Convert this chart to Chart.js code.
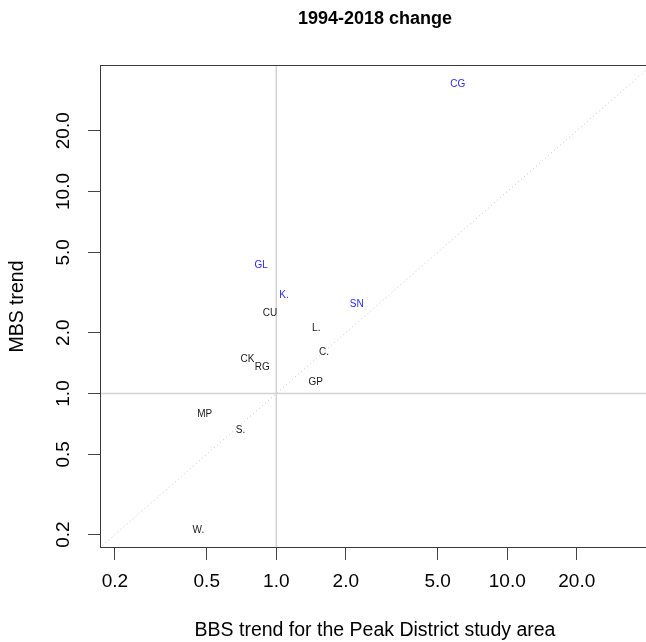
<!DOCTYPE html>
<html>
<head>
<meta charset="utf-8">
<title>1994-2018 change</title>
<script src="https://cdn.jsdelivr.net/npm/chart.js@4.4.1/dist/chart.umd.min.js"></script>
<style>
  html, body { margin: 0; padding: 0; background: #fff; overflow: hidden; width: 646px; height: 642px; }
  #wrap { width: 650px; height: 642px; }
</style>
</head>
<body>
<div id="wrap"><canvas id="chart" width="650" height="642"></canvas></div>
<script>
// Species codes and their 1994-2018 trends (BBS on x, MBS on y)
const species  = ['CG', 'GL', 'K.', 'SN', 'CU', 'L.', 'C.', 'CK', 'RG', 'GP', 'MP', 'S.', 'W.'];
const bbsTrend = [6.1, 0.86, 1.08, 2.23, 0.94, 1.49, 1.61, 0.75, 0.87, 1.48, 0.49, 0.70, 0.46];
const mbsTrend = [34.0, 4.33, 3.07, 2.76, 2.51, 2.10, 1.60, 1.48, 1.35, 1.14, 0.79, 0.66, 0.21];
// species highlighted in blue
const highlighted = ['CG', 'GL', 'K.', 'SN'];

// axis ticks and limits (log scale)
const tickValues = [0.2, 0.5, 1, 2, 5, 10, 20];
const tickLabels = ['0.2', '0.5', '1.0', '2.0', '5.0', '10.0', '20.0'];
const xLimits = [0.1725, 41.5];
const yLimits = [0.1718, 42.3];

const FONT = "'Liberation Sans', Arial, Helvetica, sans-serif";

const points = species.map((s, i) => ({ x: bbsTrend[i], y: mbsTrend[i] }));

// frame around the plot and the species codes written at each point
const textMarks = {
  id: 'textMarks',
  afterDatasetsDraw(chart) {
    const { ctx, chartArea: a } = chart;
    ctx.save();
    ctx.strokeStyle = '#3c3c3c';
    ctx.lineWidth = 1;
    ctx.strokeRect(Math.round(a.left) + 0.5, Math.round(a.top) + 0.5,
                   Math.round(a.right - a.left), Math.round(a.bottom - a.top) - 1);
    const meta = chart.getDatasetMeta(0);
    ctx.font = '10px ' + FONT;
    ctx.textAlign = 'center';
    ctx.textBaseline = 'middle';
    meta.data.forEach((pt, i) => {
      ctx.fillStyle = highlighted.includes(species[i]) ? '#2a2aff' : '#1a1a1a';
      ctx.fillText(species[i], pt.x, pt.y);
    });
    ctx.restore();
  }
};

const setTicks = scale => { scale.ticks = tickValues.map(v => ({ value: v })); };
const tickGrid = { display: true, drawOnChartArea: false, drawTicks: true, tickLength: 12, color: '#444', lineWidth: 1 };

new Chart(document.getElementById('chart'), {
  type: 'scatter',
  data: {
    datasets: [
      { label: 'species', data: points, pointRadius: 0, showLine: false },
      { label: 'x = 1', data: [{ x: 1, y: yLimits[0] }, { x: 1, y: yLimits[1] }],
        showLine: true, borderColor: '#d3d3d3', borderWidth: 1.5, pointRadius: 0 },
      { label: 'y = 1', data: [{ x: xLimits[0], y: 1 }, { x: xLimits[1], y: 1 }],
        showLine: true, borderColor: '#d3d3d3', borderWidth: 1.5, pointRadius: 0 },
      { label: 'y = x', data: [{ x: 0.1, y: 0.1 }, { x: 100, y: 100 }],
        showLine: true, borderColor: '#c4c4c4', borderWidth: 1, borderDash: [1, 3], pointRadius: 0 }
    ]
  },
  options: {
    responsive: false,
    animation: false,
    devicePixelRatio: 1,
    events: [],
    layout: { padding: 0 },
    plugins: {
      legend: { display: false },
      tooltip: { enabled: false },
      title: {
        display: true,
        fullSize: false,
        text: '1994-2018 change',
        color: '#000',
        font: { family: FONT, size: 18, weight: 'bold' },
        padding: { top: 8, bottom: 35.4 }
      }
    },
    scales: {
      x: {
        type: 'logarithmic',
        min: xLimits[0], max: xLimits[1],
        afterBuildTicks: setTicks,
        afterFit: s => { s.height = 94; },
        grid: tickGrid,
        border: { display: false },
        ticks: {
          autoSkip: false, maxRotation: 0, minRotation: 0, padding: 10,
          color: '#000', font: { family: FONT, size: 19 },
          callback: (v, i) => tickLabels[i]
        },
        title: {
          display: true, text: 'BBS trend for the Peak District study area',
          color: '#000', font: { family: FONT, size: 19.5 }, padding: { top: 0, bottom: 0 }
        }
      },
      y: {
        type: 'logarithmic',
        min: yLimits[0], max: yLimits[1],
        afterBuildTicks: setTicks,
        afterFit: s => { s.width = 100; },
        grid: tickGrid,
        border: { display: false },
        ticks: {
          autoSkip: false, minRotation: 90, maxRotation: 90, padding: 5.5, crossAlign: 'center',
          color: '#000', font: { family: FONT, size: 19 },
          callback: (v, i) => tickLabels[i]
        },
        title: {
          display: true, text: 'MBS trend',
          color: '#000', font: { family: FONT, size: 19.5 }, padding: { top: 6.3, bottom: 0 }
        }
      }
    }
  },
  plugins: [textMarks]
});
</script>
</body>
</html>
